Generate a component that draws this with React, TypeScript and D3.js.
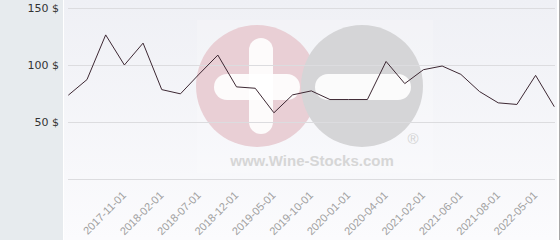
import React from "react";
import * as d3 from "d3";

const categories = [
  "2017-06-01", "2017-08-01", "2017-10-01", "2017-11-01", "2017-12-01",
  "2018-02-01", "2018-05-01", "2018-07-01", "2018-09-01", "2018-12-01",
  "2019-02-01", "2019-05-01", "2019-07-01", "2019-10-01", "2019-12-01",
  "2020-01-01", "2020-03-01", "2020-04-01", "2020-10-01", "2021-02-01",
  "2021-04-01", "2021-06-01", "2021-07-01", "2021-08-01", "2022-01-01",
  "2022-05-01", "2022-09-01",
];
const prices = [
  73.5, 87.2, 126.4, 100, 119.2, 78.4, 74.7, 92, 108.7, 80.8,
  79.6, 58.1, 73.8, 77.3, 69.7, 69.7, 69.7, 103.1, 83.7, 95.9,
  99.1, 91.8, 76.7, 66.8, 65.4, 90.9, 63.4,
];
const labeledTicks = [
  "2017-11-01", "2018-02-01", "2018-07-01", "2018-12-01", "2019-05-01",
  "2019-10-01", "2020-01-01", "2020-04-01", "2021-02-01", "2021-06-01",
  "2021-08-01", "2022-05-01",
];
const yTicks = [50, 100, 150];
const gridValues = [0, 50, 100, 150];

export default function App() {
  const W = 560, H = 240;
  const x = d3.scalePoint<string>().domain(categories).range([68.3, 554.3]);
  const y = d3.scaleLinear().domain([0, 150]).range([179, 8]);
  const line = d3
    .line<number>()
    .x((_, i) => x(categories[i]) as number)
    .y((d) => y(d));

  return (
    <svg
      width={W}
      height={H}
      style={{ position: "absolute", left: 0, top: 0 }}
      fontFamily="'Liberation Sans', Arial, sans-serif"
    >
      <defs>
        <linearGradient id="plotbg" x1="0" y1="0" x2="0" y2="1">
          <stop offset="0" stopColor="#eff0f5" />
          <stop offset="1" stopColor="#fbfbfd" />
        </linearGradient>
      </defs>
      <rect x={0} y={0} width={W} height={H} fill="#ffffff" />
      <rect x={0} y={0} width={63} height={H} fill="#e7ebee" />
      <rect x={64} y={0} width={493} height={H} fill="url(#plotbg)" />
      <line x1={559.5} x2={559.5} y1={0} y2={H} stroke="#a8a8a8" />

      {/* watermark */}
      <g>
        <rect x={197} y={20} width={236} height={153} fill="#ffffff" opacity={0.2} />
        <circle cx={257} cy={86} r={61} fill="#e9cfd5" />
        <circle cx={362} cy={86} r={61} fill="#d5d5d7" />
        <rect x={249} y={38} width={24} height={96} rx={12} fill="#ffffff" opacity={0.9} />
        <rect x={214} y={74} width={86} height={26} rx={13} fill="#ffffff" opacity={0.9} />
        <rect x={315} y={74} width={96} height={26} rx={13} fill="#ffffff" opacity={0.9} />
        <text x={413} y={144} fontSize={15} fill="#d3d3d3" textAnchor="middle">®</text>
        <text
          x={312}
          y={166}
          fontSize={15}
          fontWeight="bold"
          fill="#d6d6d6"
          textAnchor="middle"
        >
          www.Wine-Stocks.com
        </text>
      </g>

      {gridValues.map((v) => (
        <line
          key={v}
          x1={68}
          x2={555}
          y1={Math.round(y(v)) + 0.5}
          y2={Math.round(y(v)) + 0.5}
          stroke="#dcdcdf"
          strokeWidth={1}
        />
      ))}

      {yTicks.map((v) => (
        <text
          key={v}
          x={59}
          y={y(v) + 4}
          fontSize={11}
          fill="#333333"
          textAnchor="end"
          fontFamily="'DejaVu Sans', sans-serif"
        >
          {v} $
        </text>
      ))}

      <path d={line(prices) ?? ""} fill="none" stroke="#3d2833" strokeWidth={1} />

      {labeledTicks.map((c) => {
        const tx = (x(c) as number) + 2.5;
        const ty = 196;
        return (
          <text
            key={c}
            transform={`translate(${tx},${ty}) rotate(-45)`}
            fontSize={11}
            fill="#a0a0a0"
            textAnchor="end"
          >
            {c}
          </text>
        );
      })}
    </svg>
  );
}
